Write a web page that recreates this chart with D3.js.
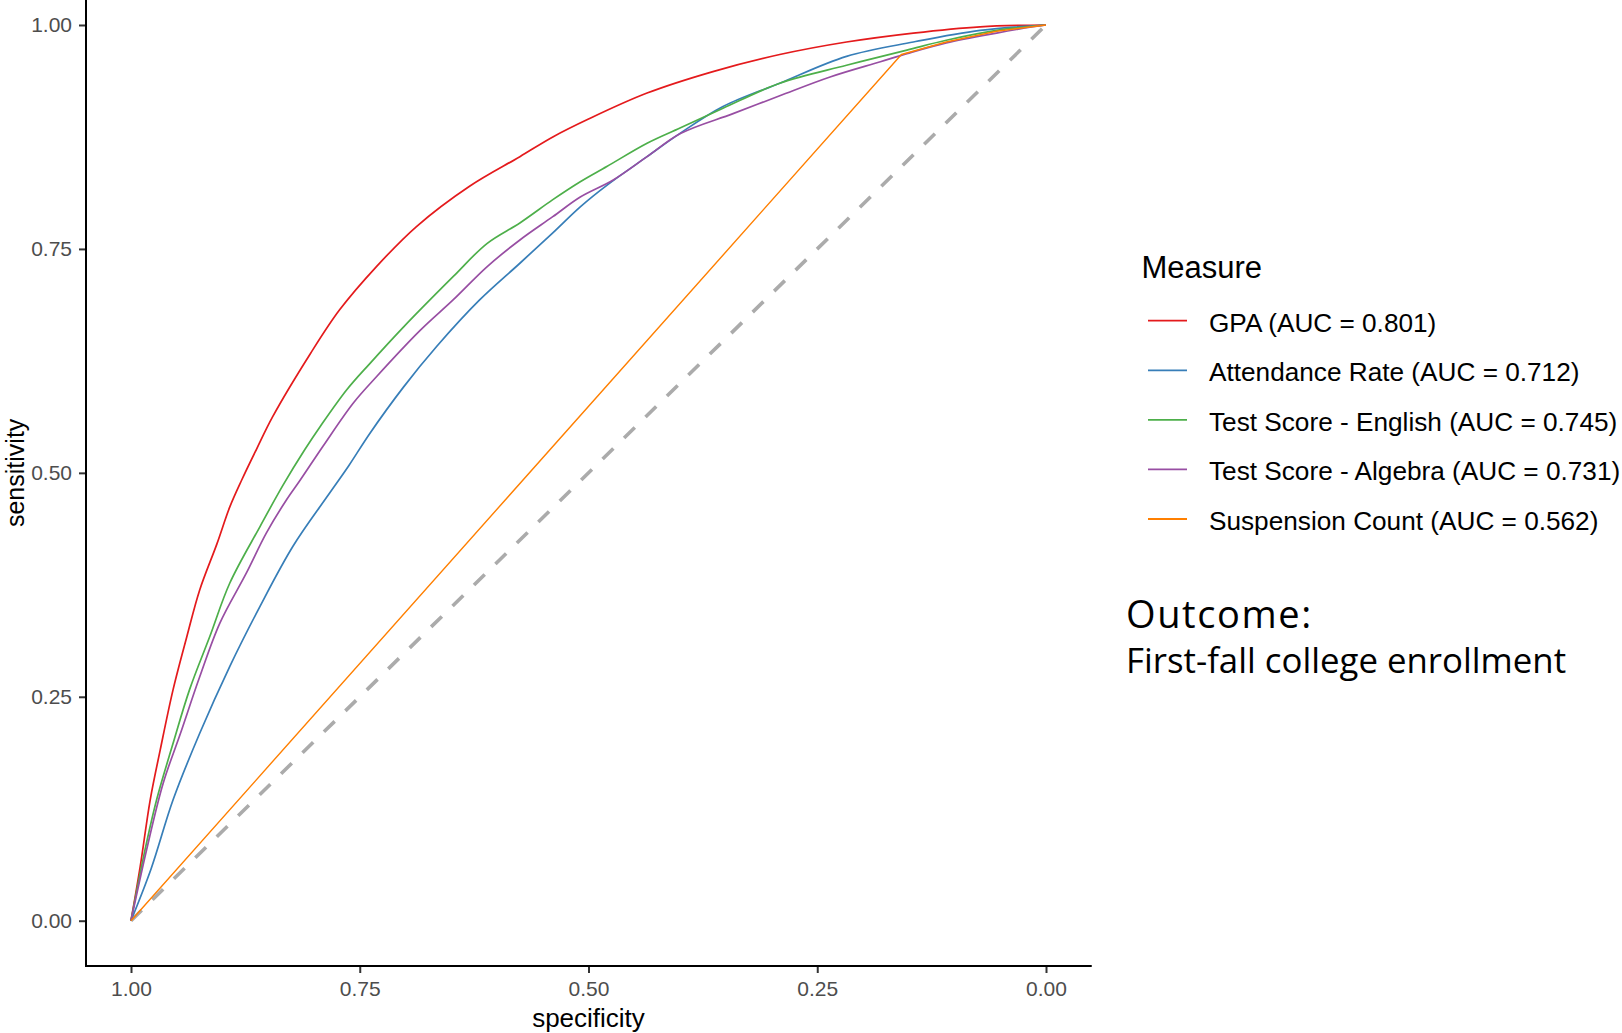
<!DOCTYPE html>
<html>
<head>
<meta charset="utf-8">
<script src="https://cdn.jsdelivr.net/npm/d3@7"></script>
<style>
  html, body { margin: 0; padding: 0; background: #fff; }
  svg { display: block; }
</style>
</head>
<body>
<svg id="chart" width="1622" height="1033"></svg>
<script>
// ROC curves: [specificity, sensitivity] pairs for each measure
const gpaRoc = [[1,0],[0.990,0.060],[0.979,0.135],[0.968,0.191],[0.954,0.258],[0.939,0.317],[0.925,0.369],[0.906,0.421],[0.892,0.462],[0.879,0.492],[0.863,0.526],[0.845,0.563],[0.804,0.633],[0.772,0.682],[0.732,0.730],[0.688,0.775],[0.630,0.820],[0.575,0.853],[0.539,0.875],[0.500,0.895],[0.436,0.924],[0.364,0.948],[0.291,0.967],[0.218,0.981],[0.145,0.991],[0.072,0.998],[0,1]];
const attendanceRoc = [[1,0],[0.978,0.058],[0.954,0.135],[0.925,0.209],[0.892,0.284],[0.859,0.351],[0.823,0.418],[0.786,0.473],[0.762,0.508],[0.739,0.544],[0.702,0.596],[0.666,0.641],[0.619,0.693],[0.575,0.734],[0.539,0.768],[0.509,0.797],[0.480,0.821],[0.436,0.853],[0.400,0.879],[0.353,0.909],[0.291,0.935],[0.218,0.965],[0.145,0.981],[0.072,0.994],[0,1]];
const englishRoc = [[1,0],[0.987,0.068],[0.972,0.135],[0.954,0.198],[0.936,0.258],[0.914,0.317],[0.892,0.377],[0.859,0.440],[0.834,0.486],[0.810,0.526],[0.793,0.552],[0.764,0.593],[0.739,0.622],[0.702,0.663],[0.648,0.719],[0.611,0.756],[0.575,0.779],[0.539,0.805],[0.509,0.825],[0.480,0.842],[0.436,0.868],[0.400,0.885],[0.353,0.907],[0.291,0.935],[0.218,0.955],[0.152,0.972],[0.109,0.983],[0.054,0.994],[0,1]];
const algebraRoc = [[1,0],[0.983,0.079],[0.965,0.153],[0.946,0.209],[0.925,0.272],[0.903,0.332],[0.874,0.388],[0.852,0.433],[0.830,0.470],[0.815,0.492],[0.790,0.530],[0.757,0.578],[0.732,0.607],[0.684,0.659],[0.648,0.693],[0.611,0.730],[0.575,0.760],[0.539,0.786],[0.509,0.808],[0.473,0.827],[0.436,0.853],[0.399,0.879],[0.342,0.901],[0.291,0.921],[0.236,0.942],[0.181,0.959],[0.152,0.968],[0.109,0.980],[0.054,0.991],[0.014,0.998],[0,1]];
const suspensionRoc = [[1,0],[0.158,0.967],[0.109,0.981],[0.054,0.993],[0,1]];

const measureLabels = [
  "GPA (AUC = 0.801)",
  "Attendance Rate (AUC = 0.712)",
  "Test Score - English (AUC = 0.745)",
  "Test Score - Algebra (AUC = 0.731)",
  "Suspension Count (AUC = 0.562)"
];
const measureColors = ["#E41A1C", "#377EB8", "#4DAF4A", "#984EA3", "#FF7F00"];
const measureCurves = [gpaRoc, attendanceRoc, englishRoc, algebraRoc, suspensionRoc];
const chanceLine = [[1,0],[0,1]];
const tickValues = [1, 0.75, 0.5, 0.25, 0];

const svg = d3.select("#chart");
const font = "'Liberation Sans', Arial, sans-serif";

// panel scales (specificity runs right-to-left, 5% padding on each side)
const x = d3.scaleLinear().domain([1.05, -0.05]).range([85.25, 1091.75]);
const y = d3.scaleLinear().domain([-0.05, 1.05]).range([965.5, -19.8]);

const line = d3.line().x(d => x(d[0])).y(d => y(d[1]));
const smoothLine = d3.line().x(d => x(d[0])).y(d => y(d[1])).curve(d3.curveCatmullRom.alpha(0.5));

// chance diagonal
svg.append("path")
  .datum(chanceLine)
  .attr("d", line)
  .attr("fill", "none")
  .attr("stroke", "#ABABAB")
  .attr("stroke-width", 3.6)
  .attr("stroke-dasharray", "15,15");

// ROC curves
measureCurves.forEach((c, i) => {
  svg.append("path")
    .datum(c)
    .attr("d", c.length > 5 ? smoothLine : line)
    .attr("fill", "none")
    .attr("stroke", measureColors[i])
    .attr("stroke-width", i === 4 ? 1.4 : 1.7)
    .attr("stroke-linejoin", "round");
});

// axes (domain lines drawn separately so they meet at the corner)
const xAxis = svg.append("g")
  .attr("transform", "translate(0,966)")
  .call(d3.axisBottom(x).tickValues(tickValues).tickFormat(d3.format(".2f")).tickSizeOuter(0).tickSize(7).tickPadding(8));
const yAxis = svg.append("g")
  .attr("transform", "translate(86,0)")
  .call(d3.axisLeft(y).tickValues(tickValues).tickFormat(d3.format(".2f")).tickSizeOuter(0).tickSize(7).tickPadding(7));

[xAxis, yAxis].forEach(g => {
  g.select(".domain").remove();
  g.selectAll(".tick line").attr("stroke", "#333").attr("stroke-width", 2);
  g.selectAll(".tick text")
    .attr("fill", "#4D4D4D")
    .style("font-family", font)
    .style("font-size", "21px");
});
svg.append("line")
  .attr("x1", 86).attr("x2", 86)
  .attr("y1", 0).attr("y2", 967)
  .attr("stroke", "#000").attr("stroke-width", 2);
svg.append("line")
  .attr("x1", 85).attr("x2", x.range()[1])
  .attr("y1", 966).attr("y2", 966)
  .attr("stroke", "#000").attr("stroke-width", 2);

// axis titles
svg.append("text")
  .attr("x", x(0.5))
  .attr("y", 1027)
  .attr("text-anchor", "middle")
  .style("font-family", font)
  .style("font-size", "26px")
  .attr("fill", "#000")
  .text("specificity");

svg.append("text")
  .attr("transform", `translate(24,${y(0.5)}) rotate(-90)`)
  .attr("text-anchor", "middle")
  .style("font-family", font)
  .style("font-size", "25px")
  .attr("fill", "#000")
  .text("sensitivity");

// legend
const legend = svg.append("g");
legend.append("text")
  .attr("x", 1141.5)
  .attr("y", 278)
  .style("font-family", font)
  .style("font-size", "31px")
  .attr("fill", "#000")
  .text("Measure");

const rowY = d3.scalePoint().domain(d3.range(measureLabels.length)).range([320.7, 519]);
measureLabels.forEach((lab, i) => {
  const ry = rowY(i);
  legend.append("line")
    .attr("x1", 1148).attr("x2", 1187)
    .attr("y1", ry).attr("y2", ry)
    .attr("stroke", measureColors[i])
    .attr("stroke-width", 1.8);
  legend.append("text")
    .attr("x", 1209)
    .attr("y", ry + 11)
    .style("font-family", font)
    .style("font-size", "26.2px")
    .attr("fill", "#000")
    .text(lab);
});

// outcome note
const noteFont = "'Open Sans', 'Noto Sans', sans-serif";
svg.append("text")
  .attr("x", 1126)
  .attr("y", 627.5)
  .style("font-family", noteFont)
  .style("font-size", "38px")
  .style("letter-spacing", "1.6px")
  .attr("fill", "#000")
  .text("Outcome:");
svg.append("text")
  .attr("x", 1126)
  .attr("y", 673)
  .style("font-family", noteFont)
  .style("font-size", "34.8px")
  .attr("fill", "#000")
  .text("First-fall college enrollment");
</script>
</body>
</html>
